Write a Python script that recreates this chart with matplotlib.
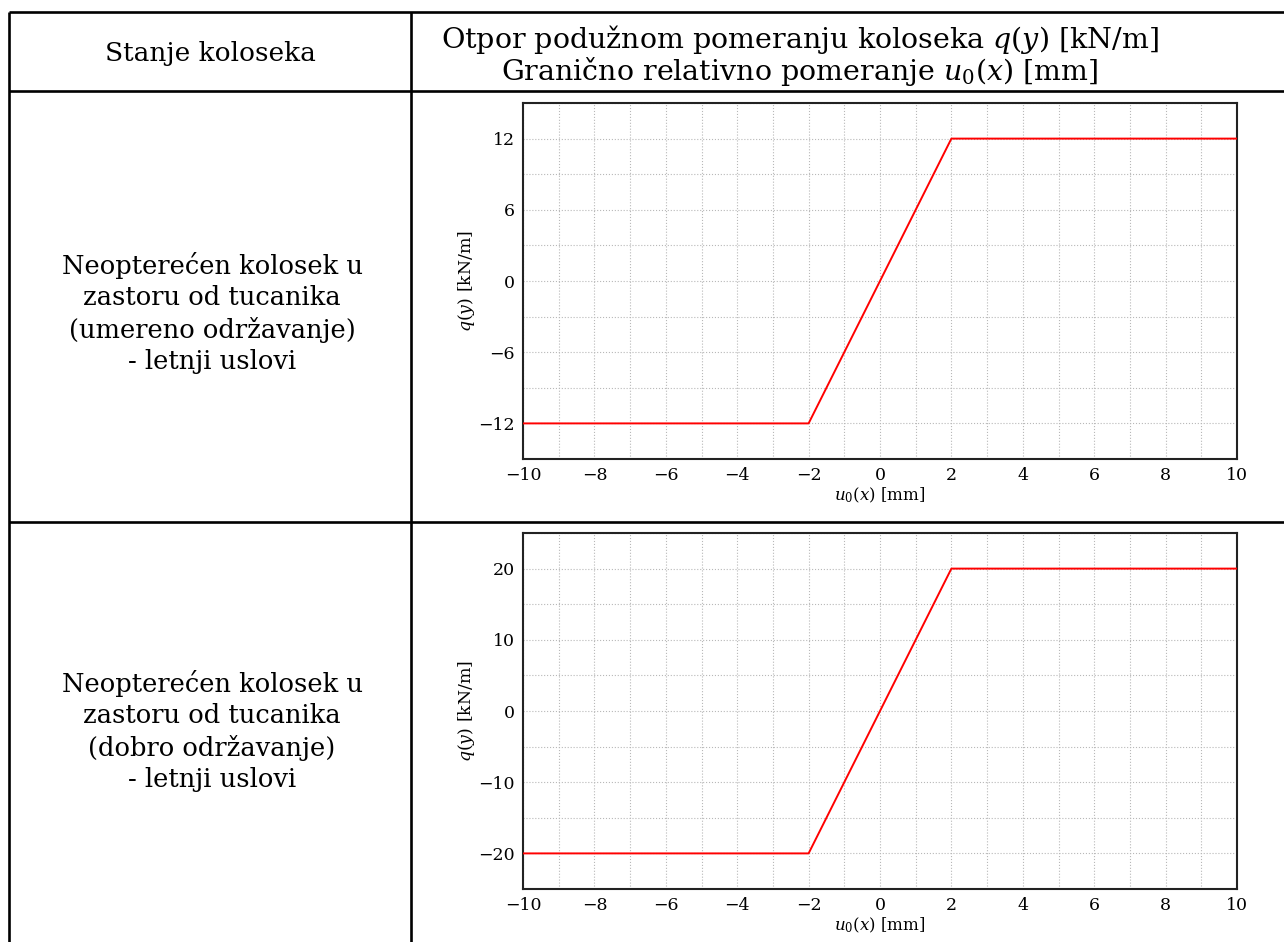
import numpy as np
import matplotlib.pyplot as plt
from matplotlib.ticker import MultipleLocator

# data
u0 = [-10, -2, 2, 10]
q_umereno = [-12, -12, 12, 12]
q_dobro = [-20, -20, 20, 20]

row_labels = [
    "Neopterećen kolosek u\nzastoru od tucanika\n(umereno održavanje)\n- letnji uslovi",
    "Neopterećen kolosek u\nzastoru od tucanika\n(dobro održavanje)\n- letnji uslovi",
]
header_left = "Stanje koloseka"
header_right = ["Otpor podužnom pomeranju koloseka $q(y)$ [kN/m]",
                "Granično relativno pomeranje $u_0(x)$ [mm]"]

plt.rcParams['font.family'] = ['DejaVu Serif']
plt.rcParams['mathtext.fontset'] = 'dejavuserif'

W, H = 1284, 942
fig = plt.figure(figsize=(W / 100, H / 100), dpi=100)

# background axes in pixel coordinates for the table
bg = fig.add_axes([0, 0, 1, 1])
bg.set_xlim(0, W)
bg.set_ylim(H, 0)
bg.axis('off')

lw_tab = 1.9
for y in [12, 91, 522]:
    bg.plot([9, W], [y, y], color='black', lw=lw_tab, solid_capstyle='butt')
for x in [9, 411]:
    bg.plot([x, x], [12, H], color='black', lw=lw_tab, solid_capstyle='butt')

bg.text(210, 54, header_left, ha='center', va='center', fontsize=19)
bg.text(800, 39, header_right[0], ha='center', va='center', fontsize=20.5)
bg.text(800, 71, header_right[1], ha='center', va='center', fontsize=20.5)

bg.text(212, 313, row_labels[0], ha='center', va='center', fontsize=18.5,
        linespacing=1.32)
bg.text(212, 731, row_labels[1], ha='center', va='center', fontsize=18.5,
        linespacing=1.32)


def px_axes(left, top, right, bottom):
    return fig.add_axes([left / W, 1 - bottom / H, (right - left) / W,
                         (bottom - top) / H])


def draw_panel(ax, x, y, ylim, ystep):
    ax.plot(x, y, color='red', lw=1.4, zorder=3)
    ax.set_xlim(-10, 10)
    ax.set_ylim(*ylim)
    ax.xaxis.set_major_locator(MultipleLocator(2))
    ax.xaxis.set_minor_locator(MultipleLocator(1))
    ax.yaxis.set_major_locator(MultipleLocator(2 * ystep))
    ax.yaxis.set_minor_locator(MultipleLocator(ystep))
    ax.grid(True, which='both', color='#b8b8b8', linestyle=':', lw=0.8)
    ax.tick_params(which='both', length=0, labelsize=12.5, pad=6)
    for s in ax.spines.values():
        s.set_linewidth(1.5)
        s.set_color('#222222')
    ax.set_xlabel("$u_0(x)$ [mm]", fontsize=12, labelpad=1)
    ax.set_ylabel("$q(y)$ [kN/m]", fontsize=12.5, labelpad=1)


ax1 = px_axes(523, 103, 1237, 459)
draw_panel(ax1, u0, q_umereno, (-15, 15), 3)

ax2 = px_axes(523, 533, 1237, 889)
draw_panel(ax2, u0, q_dobro, (-25, 25), 5)

fig.savefig('out.png', dpi=100)
